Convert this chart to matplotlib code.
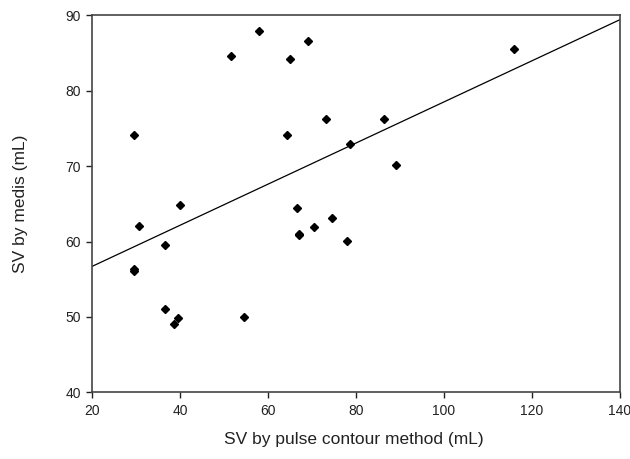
import matplotlib
matplotlib.use('Agg')
import matplotlib.pyplot as plt

# valores: SV pelo método de contorno de pulso x SV pelo medis
sv_pulso = [58.0, 69.2, 51.5, 65.0, 73.2, 29.5, 64.4, 78.6, 39.9, 66.5,
            30.8, 36.6, 29.5, 29.6, 67.1, 67.0, 70.5, 74.6, 77.9, 36.6,
            39.6, 38.6, 54.5, 115.9, 86.4, 89.2]
sv_medis = [87.9, 86.6, 84.6, 84.2, 76.2, 74.1, 74.1, 72.9, 64.8, 64.5,
            62.1, 59.5, 56.1, 56.3, 60.8, 61.0, 61.9, 63.1, 60.1, 51.0,
            49.8, 49.1, 50.0, 85.5, 76.2, 70.2]

# reta de regressão (extremos)
reta_x = [20, 140]
reta_y = [56.7, 89.4]

plt.rcParams['font.family'] = ['Liberation Sans', 'DejaVu Sans']

fig = plt.figure(figsize=(6.3, 4.59), dpi=100)
ax = fig.add_axes([0.146, 0.145, 0.838, 0.822])

ax.plot(sv_pulso, sv_medis, 'D', color='black', markersize=4.3, linestyle='none')
ax.plot(reta_x, reta_y, color='black', linewidth=0.9)

ax.set_xlim(20, 140)
ax.set_ylim(40, 90)
ax.set_xticks(range(20, 141, 20))
ax.set_yticks(range(40, 91, 10))
ax.tick_params(direction='out', length=4.5, width=1, labelsize=10,
               colors='#222222', pad=3.5)
for lado in ax.spines.values():
    lado.set_color('#444444')
    lado.set_linewidth(1.2)

ax.set_xlabel('SV by pulse contour method (mL)', fontsize=12.5, color='#222222')
ax.set_ylabel('SV by medis (mL)', fontsize=12.5, color='#222222')
ax.xaxis.set_label_coords(0.496, -0.126)
ax.xaxis.label.set_va('center')
ax.yaxis.set_label_coords(-0.136, 0.5)
ax.yaxis.label.set_va('center')

fig.savefig('out.png', dpi=100)
